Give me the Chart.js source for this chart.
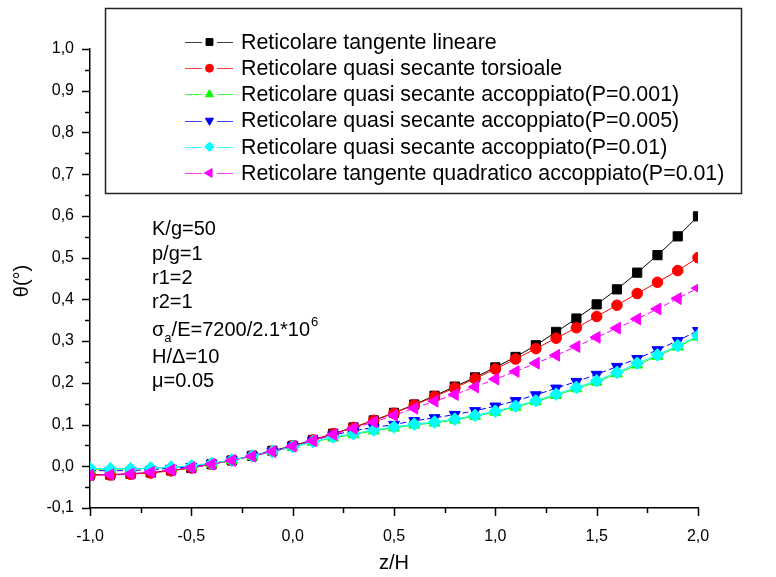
<!DOCTYPE html>
<html><head><meta charset="utf-8">
<script src="https://cdn.jsdelivr.net/npm/chart.js@4/dist/chart.umd.min.js"></script>
<style>html,body{margin:0;padding:0;background:#fff}#wrap{width:776px;height:577px;position:relative}</style>
</head><body><div id="wrap"><canvas id="c" width="776" height="577"></canvas></div>
<script>
// ---- data ----
const zH = [-1.0,-0.9,-0.8,-0.7,-0.6,-0.5,-0.4,-0.3,-0.2,-0.1,0.0,0.1,0.2,0.3,0.4,0.5,0.6,0.7,0.8,0.9,1.0,1.1,1.2,1.3,1.4,1.5,1.6,1.7,1.8,1.9,2.0];
const tangenteLineare = [-0.020,-0.020,-0.018,-0.015,-0.010,-0.004,0.005,0.014,0.025,0.037,0.049,0.063,0.078,0.093,0.110,0.128,0.148,0.169,0.191,0.213,0.237,0.262,0.290,0.322,0.354,0.388,0.424,0.464,0.506,0.551,0.599];
const secanteTorsioale = [-0.021,-0.021,-0.019,-0.016,-0.011,-0.004,0.005,0.014,0.025,0.036,0.049,0.063,0.078,0.093,0.110,0.127,0.147,0.167,0.188,0.210,0.233,0.257,0.282,0.307,0.332,0.359,0.386,0.414,0.441,0.469,0.500];
const secanteP0001 = [-0.007,-0.007,-0.006,-0.005,-0.003,0.000,0.006,0.014,0.024,0.035,0.046,0.058,0.068,0.076,0.085,0.092,0.099,0.104,0.111,0.120,0.130,0.142,0.155,0.170,0.186,0.202,0.222,0.243,0.264,0.286,0.310];
const secanteP0005 = [-0.010,-0.011,-0.010,-0.008,-0.005,-0.001,0.006,0.015,0.025,0.036,0.049,0.062,0.075,0.085,0.093,0.100,0.109,0.116,0.124,0.133,0.144,0.157,0.171,0.187,0.203,0.220,0.239,0.258,0.279,0.301,0.325];
const secanteP001 = [-0.005,-0.006,-0.006,-0.004,-0.002,0.001,0.007,0.015,0.025,0.035,0.047,0.059,0.070,0.078,0.087,0.094,0.101,0.106,0.113,0.122,0.132,0.144,0.157,0.173,0.189,0.205,0.225,0.247,0.267,0.289,0.313];
const quadraticoP001 = [-0.021,-0.020,-0.018,-0.014,-0.009,-0.003,0.005,0.014,0.024,0.035,0.048,0.061,0.076,0.091,0.106,0.122,0.139,0.156,0.172,0.190,0.209,0.227,0.247,0.266,0.287,0.309,0.331,0.353,0.377,0.402,0.427];
const seriesLabels = [
  'Reticolare tangente lineare',
  'Reticolare quasi secante torsioale',
  'Reticolare quasi secante accoppiato(P=0.001)',
  'Reticolare quasi secante accoppiato(P=0.005)',
  'Reticolare quasi secante accoppiato(P=0.01)',
  'Reticolare tangente quadratico accoppiato(P=0.01)'
];
const xTickValues = [-1.0,-0.5,0.0,0.5,1.0,1.5,2.0];
const yTickValues = [-0.1,0.0,0.1,0.2,0.3,0.4,0.5,0.6,0.7,0.8,0.9,1.0];
const annotations = ['K/g=50','p/g=1','r1=2','r2=1','SIGMA','H/\u0394=10','\u03bc=0.05'];

// ---- styles ----
const FONT = '"Liberation Sans", Arial, sans-serif';
const styles = [
  {color:'#000000', point:'rect', rot:0, r:6.5, dash:[]},
  {color:'#ff0000', point:'circle', rot:0, r:5.3, dash:[]},
  {color:'#00ff00', point:'triangle', rot:0, r:6.3, dash:[]},
  {color:'#0000ff', point:'triangle', rot:180, r:6.3, dash:[6,3]},
  {color:'#00ffff', point:'rectRot', rot:0, r:6.3, dash:[]},
  {color:'#ff00ff', point:'triangle', rot:270, r:6.8, dash:[6,3]}
];
const allSeries = [tangenteLineare, secanteTorsioale, secanteP0001, secanteP0005, secanteP001, quadraticoP001];

const datasets = allSeries.map((s, i) => ({
  label: seriesLabels[i],
  data: zH.map((x, k) => ({x: x, y: s[k]})),
  showLine: true,
  borderColor: styles[i].color,
  backgroundColor: styles[i].color,
  borderWidth: 1,
  borderDash: styles[i].dash,
  pointStyle: styles[i].point,
  pointRotation: styles[i].rot,
  pointRadius: styles[i].r,
  pointBorderWidth: 1,
  pointBorderColor: styles[i].color,
  pointBackgroundColor: styles[i].color,
  order: allSeries.length - i
}));

const fmt = v => (Math.abs(v) < 1e-9 ? '0,0' : v.toFixed(1).replace('.', ','));

const decor = {
  id: 'decor',
  afterDraw(chart) {
    const ctx = chart.ctx;
    const xs = chart.scales.x, ys = chart.scales.y;
    const ca = chart.chartArea;
    ctx.save();
    ctx.strokeStyle = '#000';
    ctx.lineWidth = 1.5;
    // y ticks (major 0.1, minor 0.05)
    for (let i = 0; i <= 22; i++) {
      const v = -0.1 + i * 0.05;
      const py = Math.round(ys.getPixelForValue(v)) + 0.5;
      const len = (i % 2 === 0) ? 8 : 5;
      ctx.beginPath(); ctx.moveTo(ca.left, py); ctx.lineTo(ca.left - len, py); ctx.stroke();
    }
    // x ticks (major 0.5, minor 0.25)
    for (let i = 0; i <= 12; i++) {
      const v = -1 + i * 0.25;
      const px = Math.round(xs.getPixelForValue(v)) + 0.5;
      const len = (i % 2 === 0) ? 8 : 5;
      ctx.beginPath(); ctx.moveTo(px, ca.bottom); ctx.lineTo(px, ca.bottom + len); ctx.stroke();
    }
    // axis titles
    ctx.fillStyle = '#000';
    ctx.font = '20px ' + FONT;
    ctx.textAlign = 'center'; ctx.textBaseline = 'middle';
    ctx.fillText('z/H', (ca.left + ca.right) / 2, 563);
    ctx.save();
    ctx.translate(22, 281); ctx.rotate(-Math.PI / 2);
    ctx.fillText('\u03b8(\u00b0)', 0, 0);
    ctx.restore();

    // annotations
    ctx.textAlign = 'left'; ctx.textBaseline = 'alphabetic';
    const ay = [235, 260, 284, 308, 336, 363, 387];
    const ax = 152;
    annotations.forEach((t, i) => {
      if (t === 'SIGMA') {
        let x = ax; const y = ay[i];
        ctx.font = '20px ' + FONT;
        ctx.fillText('\u03c3', x, y); x += ctx.measureText('\u03c3').width;
        ctx.font = '13px ' + FONT;
        ctx.fillText('a', x, y + 6); x += ctx.measureText('a').width;
        ctx.font = '20px ' + FONT;
        const s = '/E=7200/2.1*10';
        ctx.fillText(s, x, y); x += ctx.measureText(s).width;
        ctx.font = '13px ' + FONT;
        ctx.fillText('6', x + 1, y - 10);
      } else {
        ctx.font = '20px ' + FONT;
        ctx.fillText(t, ax, ay[i]);
      }
    });

    // legend box
    ctx.fillStyle = '#fff';
    ctx.fillRect(105, 8, 636, 185);
    ctx.lineWidth = 1.5; ctx.strokeStyle = '#222';
    ctx.strokeRect(105.5, 8.5, 636, 185);
    chart.data.datasets.forEach((ds, i) => {
      const y = 42 + i * 26.2;
      ctx.save();
      ctx.strokeStyle = ds.borderColor; ctx.lineWidth = 1;
      ctx.globalAlpha = 0.75;
      ctx.beginPath();
      ctx.moveTo(185, Math.round(y) + 0.5); ctx.lineTo(202, Math.round(y) + 0.5);
      ctx.moveTo(217, Math.round(y) + 0.5); ctx.lineTo(233, Math.round(y) + 0.5);
      ctx.stroke();
      ctx.globalAlpha = 1;
      ctx.fillStyle = ds.pointBackgroundColor; ctx.strokeStyle = ds.pointBorderColor;
      Chart.helpers.drawPoint(ctx, {pointStyle: ds.pointStyle, rotation: ds.pointRotation, radius: ds.pointRadius * 0.75, borderWidth: 1}, 209.5, y);
      ctx.restore();
      ctx.fillStyle = '#000'; ctx.font = '21.4px ' + FONT;
      ctx.textAlign = 'left'; ctx.textBaseline = 'middle';
      ctx.fillText(ds.label, 241, y + 1);
    });
    ctx.restore();
  }
};

new Chart(document.getElementById('c'), {
  type: 'scatter',
  data: { datasets },
  options: {
    responsive: false,
    devicePixelRatio: 1,
    animation: false,
    layout: { padding: { top: 49, right: 78, left: 0, bottom: 0 } },
    plugins: { legend: { display: false }, tooltip: { enabled: false } },
    scales: {
      x: {
        type: 'linear', min: -1, max: 2,
        afterFit: s => { s.height = 69; },
        afterBuildTicks: s => { s.ticks = xTickValues.map(v => ({value: v})); },
        grid: { display: false },
        border: { display: true, color: '#000', width: 1.5 },
        ticks: { color: '#000', font: { family: FONT, size: 16 }, padding: 11, maxRotation: 0, callback: v => fmt(v) }
      },
      y: {
        type: 'linear', min: -0.1, max: 1.0,
        afterFit: s => { s.width = 90; },
        afterBuildTicks: s => { s.ticks = yTickValues.map(v => ({value: v})); },
        grid: { display: false },
        border: { display: true, color: '#000', width: 1.5 },
        ticks: { color: '#000', font: { family: FONT, size: 16 }, padding: 8, callback: v => fmt(v) }
      }
    }
  },
  plugins: [decor]
});
</script>
</body></html>
